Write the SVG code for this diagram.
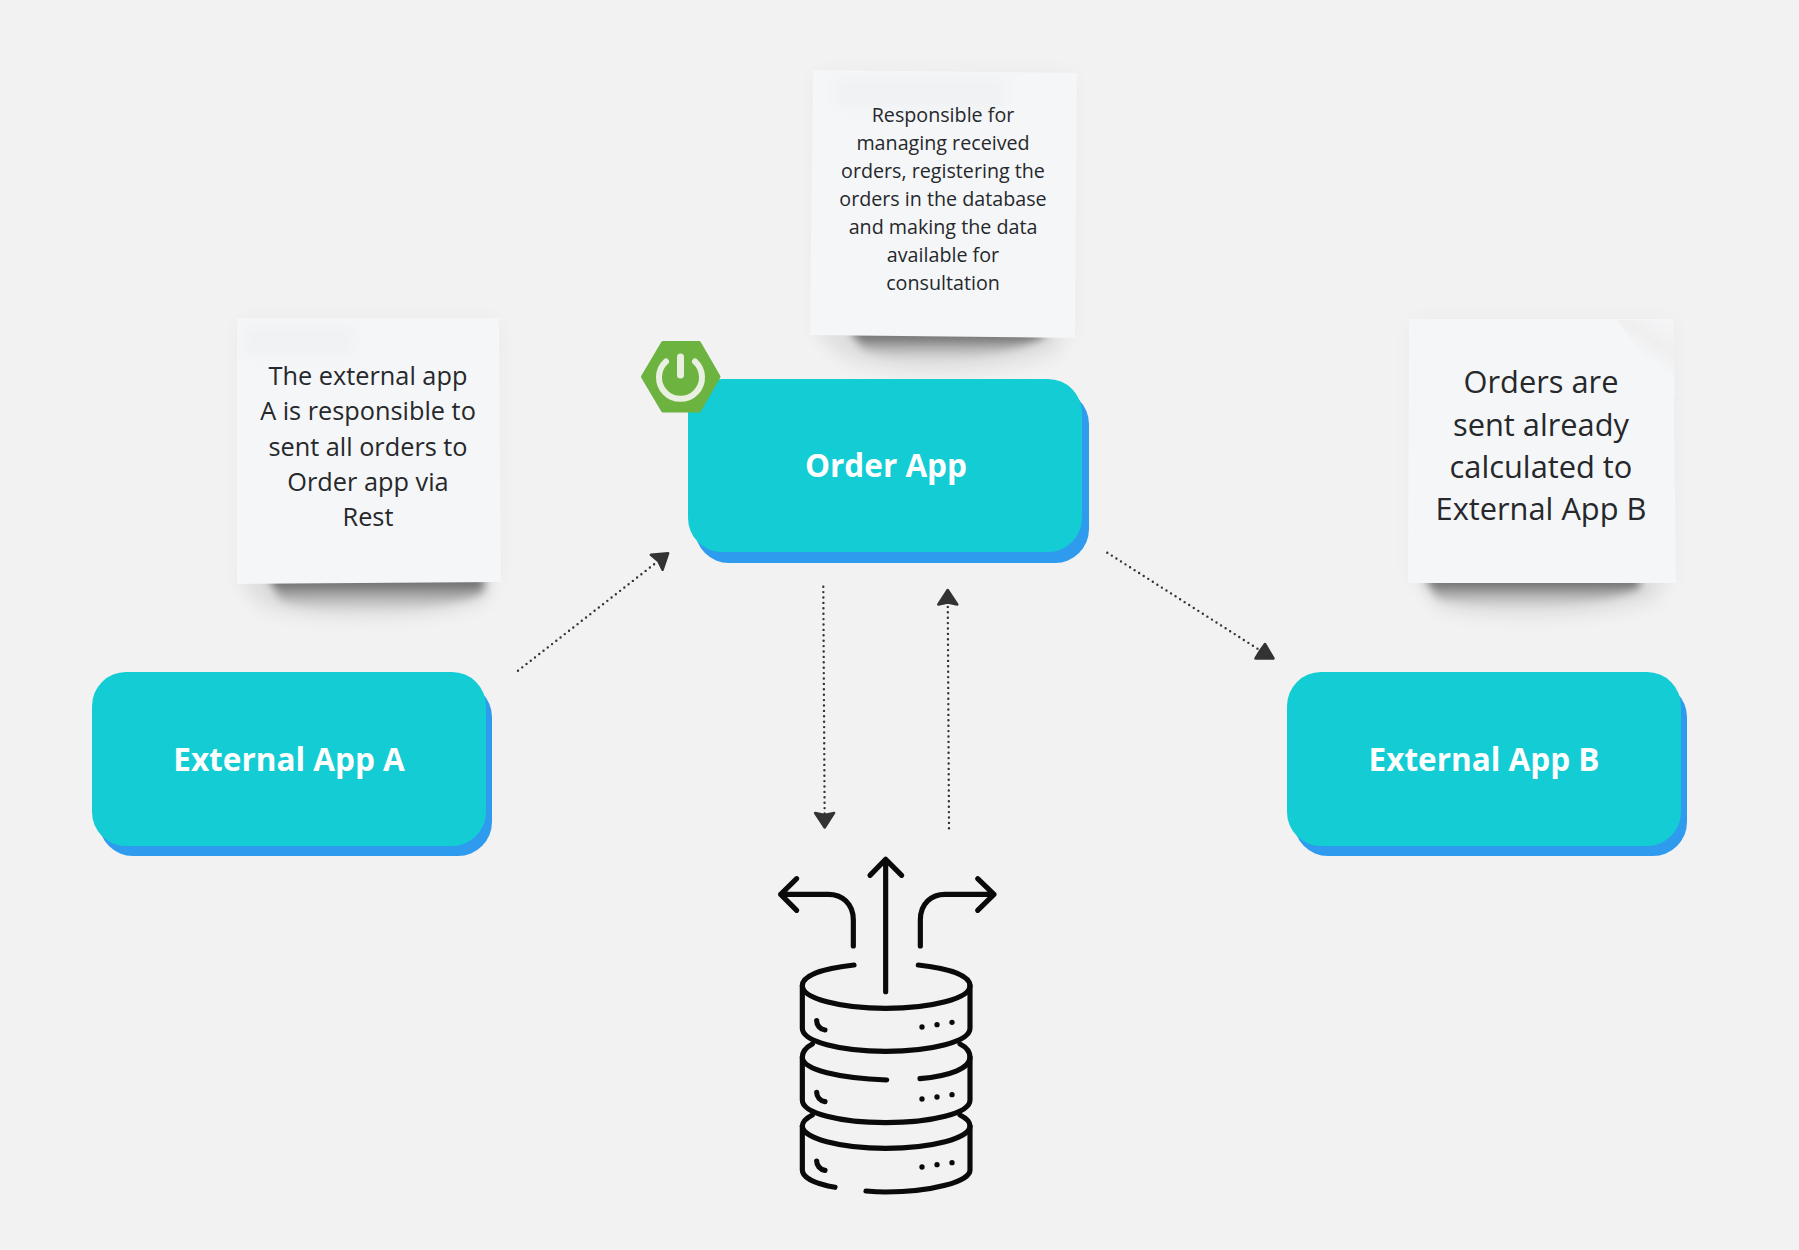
<svg xmlns="http://www.w3.org/2000/svg" width="1799" height="1250" viewBox="0 0 1799 1250">
<style>
.card{fill:#13ccd4}
.back{fill:#2e9bef}
.title{font-family:"Open Sans",sans-serif;font-weight:700;font-size:31.500px;fill:#fff;text-anchor:middle}
.note{fill:#f5f6f8}
.ntext{font-family:"Open Sans",sans-serif;fill:#26282b;text-anchor:middle}
.halo{fill:#000;opacity:.04;filter:url(#b12)}
.sh{fill:url(#shg);filter:url(#b5)}
.sh2{fill:#000;opacity:.07;filter:url(#b10)}
.tape{fill:#e9eaec;opacity:.4;filter:url(#b4)}
.conn{fill:none;stroke:#333;stroke-width:2.400;stroke-linecap:round;stroke-dasharray:0 5.400}
.ic{fill:none;stroke:#0a0a0a;stroke-width:15.500;stroke-linecap:round;stroke-linejoin:round}
.dot{fill:#0a0a0a}
</style>
<defs>
<filter id="b12" x="-30%" y="-30%" width="160%" height="160%"><feGaussianBlur stdDeviation="12"/></filter>
<filter id="b10" x="-30%" y="-100%" width="160%" height="300%"><feGaussianBlur stdDeviation="9"/></filter>
<filter id="b5" x="-30%" y="-100%" width="160%" height="300%"><feGaussianBlur stdDeviation="5"/></filter>
<filter id="b4" x="-30%" y="-50%" width="160%" height="200%"><feGaussianBlur stdDeviation="7"/></filter>
<linearGradient id="shg" x1="0" y1="0" x2="0" y2="1"><stop offset="0" stop-color="#444"/><stop offset=".4" stop-color="#666" stop-opacity=".62"/><stop offset="1" stop-color="#999" stop-opacity=".05"/></linearGradient>
<linearGradient id="fold" gradientUnits="userSpaceOnUse" x1="1646" y1="359" x2="1673" y2="320"><stop offset="0" stop-color="#f5f6f8"/><stop offset=".4" stop-color="#efefef"/><stop offset="1" stop-color="#f5f6f8"/></linearGradient>
<marker id="head" markerUnits="userSpaceOnUse" viewBox="-19 -13 22 26" refX="0" refY="0" markerWidth="22" markerHeight="26" orient="auto"><path d="M-15 -9.500 L-0.500 0 L-15 9.500 L-13 0 Z" fill="#333" stroke="#333" stroke-width="2.500" stroke-linejoin="round"/></marker>
<marker id="headb" markerUnits="userSpaceOnUse" viewBox="-8 -10 28 24" refX="0" refY="0" markerWidth="28" markerHeight="24" orient="0"><path d="M7 -5 L15.500 9.500 L-2.500 9.500 L2 2 Z" fill="#333" stroke="#333" stroke-width="2.500" stroke-linejoin="round"/></marker>
</defs>
<rect width="1799" height="1250" fill="#f2f2f2"/>

<g id="note-order">
<rect class="halo" x="815" y="75" width="258" height="262"/>
<path class="sh2" d="M815 330H1060V352C1000 378 880 378 840 356Z"/>
<path class="sh" d="M850 330H1045V336C990 366 890 366 862 348Z"/>
<path class="note" d="M813 70L1077 73L1075 338L810 335Z"/>
<rect class="tape" x="835" y="78" width="170" height="30"/>
<text class="ntext" font-size="19.700"><tspan x="943" y="122">Responsible for</tspan><tspan x="943" y="150">managing received</tspan><tspan x="943" y="178">orders, registering the</tspan><tspan x="943" y="206">orders in the database</tspan><tspan x="943" y="234">and making the data</tspan><tspan x="943" y="262">available for</tspan><tspan x="943" y="290">consultation</tspan></text>
</g>

<g id="note-a">
<rect class="halo" x="240" y="322" width="258" height="262"/>
<path class="sh2" d="M240 576H488V600C440 624 290 624 255 604Z"/>
<path class="sh" d="M268 576H484V592C440 616 320 618 280 600Z"/>
<path class="note" d="M237 318H499L501 582L237 584Z"/>
<rect class="tape" x="244" y="326" width="110" height="30"/>
<text class="ntext" font-size="25.300"><tspan x="368" y="385">The external app</tspan><tspan x="368" y="420">A is responsible to</tspan><tspan x="368" y="456">sent all orders to</tspan><tspan x="368" y="491">Order app via</tspan><tspan x="368" y="526">Rest</tspan></text>
</g>

<g id="note-b">
<rect class="halo" x="1412" y="322" width="260" height="262"/>
<path class="sh2" d="M1420 576H1660V598C1610 622 1470 622 1435 606Z"/>
<path class="sh" d="M1425 576H1640V588C1590 612 1480 614 1436 598Z"/>
<path class="note" d="M1409 319H1673L1676 583H1408Z"/>
<path d="M1617 320H1673L1675 398Z" fill="url(#fold)"/>
<text class="ntext" font-size="30.800"><tspan x="1541" y="393">Orders are</tspan><tspan x="1541" y="436">sent already</tspan><tspan x="1541" y="478">calculated to</tspan><tspan x="1541" y="520">External App B</tspan></text>
</g>

<g id="node-order">
<rect class="back" x="695" y="390" width="394" height="173" rx="34"/>
<rect class="card" x="688" y="379" width="394" height="173" rx="34"/>
<text class="title" x="886" y="477">Order App</text>
</g>

<g id="spring-badge">
<polygon points="643,376.700 663,343 699,343 718.500,376.700 699,410.500 663,410.500" fill="#6db33f" stroke="#6db33f" stroke-width="4" stroke-linejoin="round"/>
<path d="M666 361.500A21.500 21.500 0 1 0 695 361.500" fill="none" stroke="#e9f0e2" stroke-width="6" stroke-linecap="round"/>
<path d="M680.500 357V375" fill="none" stroke="#e9f0e2" stroke-width="7" stroke-linecap="round"/>
</g>

<g id="node-a">
<rect class="back" x="99" y="683" width="393" height="173" rx="34"/>
<rect class="card" x="92" y="672" width="394" height="174" rx="34"/>
<text class="title" x="289" y="771">External App A</text>
</g>

<g id="node-b">
<rect class="back" x="1294" y="683" width="393" height="173" rx="34"/>
<rect class="card" x="1287" y="672" width="394" height="174" rx="34"/>
<text class="title" x="1484" y="771">External App B</text>
</g>

<g id="connectors">
<path class="conn" d="M518 670.700L668.500 553" marker-end="url(#head)"/>
<path class="conn" d="M823.300 586.700L824.700 828" marker-end="url(#head)"/>
<path class="conn" d="M949 828.300L947.700 589.500" marker-end="url(#head)"/>
<path class="conn" d="M1107.300 552.700L1258 649" marker-end="url(#headb)"/>
</g>

<g id="database" transform="translate(750 840) scale(.33333)">
<path class="ic" d="M407 455V58M360 106L407 58L455 106"/>
<path class="ic" d="M310 318V240C310 190 275 163 235 163H92M140 116L92 163L140 211"/>
<path class="ic" d="M511 318V240C511 190 545 163 585 163H732M683 116L732 163L683 211"/>
<path class="ic" d="M312 375C220 385 157 405 157 437C157 475 270 505 407 505C545 505 660 475 660 437C660 405 595 385 505 375"/>
<path class="ic" d="M157 437V565C157 605 270 634 407 634C545 634 660 605 660 565V437"/>
<path class="ic" d="M187 612C168 622 157 635 157 652C157 690 270 715 410 720M510 716C600 708 660 685 660 652C660 635 650 622 630 612"/>
<path class="ic" d="M157 652V780C157 820 270 848 407 848C545 848 660 820 660 780V652"/>
<path class="ic" d="M187 825C168 835 157 845 157 858C157 895 270 925 407 925C545 925 660 895 660 858C660 845 650 835 630 825"/>
<path class="ic" d="M157 858V990C157 1015 200 1032 255 1042M348 1053C370 1055 390 1056 407 1056C545 1056 660 1025 660 990V858"/>
<path class="ic" d="M200 542C200 555 210 568 225 570M200 757C200 770 210 783 225 785M200 963C200 976 210 989 225 991"/>
<circle class="dot" cx="516" cy="561" r="8"/><circle class="dot" cx="561" cy="554" r="8"/><circle class="dot" cx="606" cy="547" r="8"/>
<circle class="dot" cx="516" cy="777" r="8"/><circle class="dot" cx="561" cy="771" r="8"/><circle class="dot" cx="606" cy="764" r="8"/>
<circle class="dot" cx="516" cy="981" r="8"/><circle class="dot" cx="561" cy="974" r="8"/><circle class="dot" cx="606" cy="968" r="8"/>
</g>
</svg>
